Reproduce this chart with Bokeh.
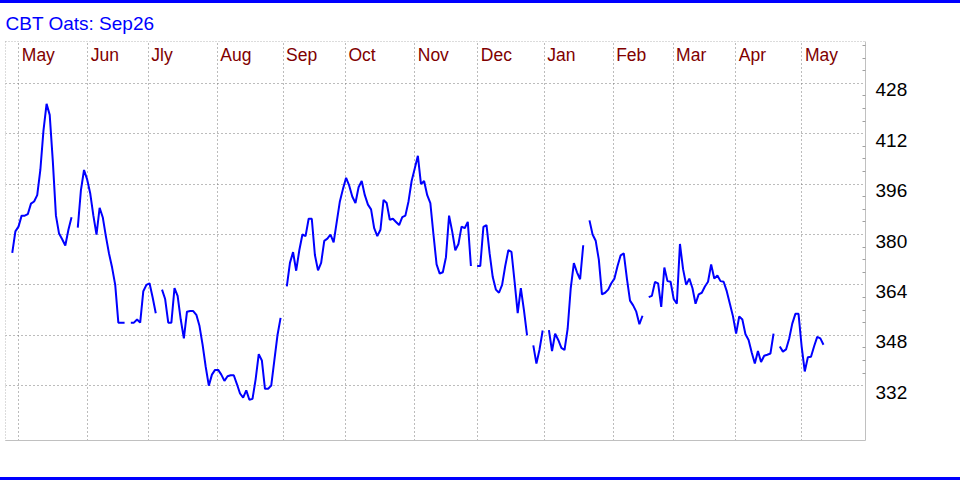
import math
from bokeh.plotting import figure
from bokeh.models import Range1d, LinearAxis, FixedTicker, CustomJSTickFormatter, Div
from bokeh.layouts import column
from bokeh.core.properties import value
from bokeh.embed import file_html
from bokeh.resources import INLINE

# ---------------- data ----------------
title_text = "CBT Oats: Sep26"
month_labels = ["May", "Jun", "Jly", "Aug", "Sep", "Oct", "Nov", "Dec",
                "Jan", "Feb", "Mar", "Apr", "May"]
# trading-day index where each month starts
month_pos = [2.1, 24.2, 43.6, 65.7, 86.8, 106.8, 129.0, 149.2, 170.5,
             192.6, 211.8, 231.9, 253.1]
y_ticks = [332, 348, 364, 380, 396, 412, 428]
y_minor_ticks = [336, 340, 344, 352, 356, 360, 368, 372, 376, 384, 388, 392,
                 400, 404, 408, 416, 420, 424, 432, 436, 440]

# daily settlement (None = no trade that day)
price = [
    374.2, 381, 382.5, 386, 386, 386.5, 389.8, 390.5, 392.5, 400.5,
    413, 421.5, 418, 403.3, 386, 380.3, 378.5, 376.5, 381.5, 385.5,
    None, 382.2, 394, 400.5, 397.5, 393, 386, 380, 388.5, 385.5,
    379.5, 374, 369.5, 364, 352, 352, 352, None, 352, 352,
    353, 352, 362, 364, 364.5, 360, 355, None, 362.5, 359.5,
    352, 352, 363, 360.5, 353, 347, 355.5, 355.7, 355.7, 354.5,
    351, 345, 338, 332, 335.5, 337, 337, 335.5, 333.5, 335,
    335.3, 335.3, 332.5, 329.5, 328.2, 330.5, 327.5, 327.8, 334, 342,
    340, 331, 331, 332, 340, 348, 353.5, None, 363.5, 371,
    374.4, 368.5, 375, 380, 379.5, 385, 385, 373.5, 368.6, 371,
    378, 378.7, 380, 377.5, 384, 390.5, 394.5, 398, 395.5, 392,
    390, 395, 397, 392.5, 389.5, 388, 382, 379.5, 381.5, 391,
    390, 384.7, 385, 384, 383, 385.5, 386, 390.5, 397, 401,
    405, 396, 397, 392.5, 390, 380, 370.5, 367.6, 368, 372.8,
    386, 381, 375, 377, 382.5, 382, 384, 370, None, 370,
    370, 382.4, 383, 374, 366.5, 362.5, 361.5, 364, 370, 375,
    374.5, 365, 355, 363, 356, 348, None, 344.8, 339, 343.5,
    349.5, None, 349.6, 343, 348.5, 346.5, 344, 343.3, 350, 363,
    370.9, 368, 365.8, 376.6, None, 384.5, 380, 378, 372, 361,
    361.5, 362.5, 364.5, 366, 370, 373.4, 374, 366, 359, 357.5,
    355.5, 351.5, 354.2, None, 360.1, 360.5, 364.9, 364.5, 357, 369.5,
    365.2, 365, 359.5, 358, 377, 369, 364, 366, 363, 358,
    361, 361.5, 363.5, 365, 370.5, 366, 367, 365.2, 365, 362,
    358, 354, 348.5, 354, 353, 348.3, 346.5, 342.5, 339, 343,
    339.5, 341.5, 341.8, 342.2, 348.5, None, 344.4, 342.8, 343.5, 346.9,
    351.7, 354.8, 354.8, 344.5, 336.5, 341, 341.2, 344.5, 347.5, 347,
    345,
]
day = list(range(len(price)))
price_plot = [math.nan if v is None else v for v in price]

# ---------------- styling ----------------
FONT = "Liberation Sans"
W = 960
X_START, X_END = -2.167, 273.47
Y_START, Y_END = 314.57, 441.31
LABEL_SHIFT = 2.06


def blue_bar():
    return Div(text="", width=W, height=3,
               styles={"background-color": "#0000FF", "margin": "0",
                       "padding": "0"})


fig = figure(width=W, height=474, toolbar_location=None, output_backend="svg",
             x_range=Range1d(X_START, X_END), y_range=Range1d(Y_START, Y_END),
             x_axis_location=None, y_axis_location="right",
             min_border_left=5, min_border_right=95,
             min_border_top=37, min_border_bottom=37,
             background_fill_color="white", border_fill_color="white",
             outline_line_color="#b8b8b8", outline_line_dash="1 2")

fig.title.text = title_text
fig.title.align = "left"
fig.title.text_font = FONT
fig.title.text_font_size = "19px"
fig.title.text_font_style = "normal"
fig.title.text_color = "#0000FF"
fig.title.offset = 0
fig.title.standoff = 15

# right axis: ticks only
ax = fig.yaxis[0]
ax.ticker = FixedTicker(ticks=y_ticks, minor_ticks=y_minor_ticks)
ax.formatter = CustomJSTickFormatter(code="return ''")
ax.major_label_standoff = 0
ax.major_tick_in = 0
ax.major_tick_out = 0
ax.major_tick_line_color = None
ax.minor_tick_in = 3
ax.minor_tick_out = 0
ax.minor_tick_line_color = "#a0a0a0"
ax.axis_line_color = "#c0c0c0"

# right axis: labels (drawn just below each grid line)
fig.extra_y_ranges = {"lab": Range1d(Y_START + LABEL_SHIFT, Y_END + LABEL_SHIFT)}
lab = LinearAxis(y_range_name="lab", ticker=FixedTicker(ticks=y_ticks),
                 axis_line_color=None, major_tick_line_color=None,
                 minor_tick_line_color=None, major_tick_in=0, major_tick_out=0,
                 minor_tick_in=0, minor_tick_out=0, major_label_standoff=10,
                 major_label_text_font=FONT, major_label_text_font_size="19px",
                 major_label_text_color="#000000")
fig.add_layout(lab, "right")

# bottom solid border
bx = LinearAxis(ticker=FixedTicker(ticks=[]), axis_line_color="#c0c0c0",
                major_tick_in=0, major_tick_out=0, major_label_standoff=0,
                formatter=CustomJSTickFormatter(code="return ''"))
fig.add_layout(bx, "below")

fig.ygrid.grid_line_color = "#787878"
fig.ygrid.grid_line_dash = "1 3"
fig.xgrid.ticker = FixedTicker(ticks=month_pos)
fig.xgrid.grid_line_color = "#787878"
fig.xgrid.grid_line_dash = "1 3"

fig.text(x=month_pos, y=[Y_END] * len(month_pos), text=month_labels,
         text_font=value(FONT), text_font_size="17.5px", text_color="#800000",
         text_align="left", text_baseline="alphabetic", x_offset=3, y_offset=13)

fig.line(day, price_plot, line_color="#0000FF", line_width=2)

p = column(blue_bar(), fig, blue_bar(), spacing=0)

open("out.html", "w").write(file_html(p, INLINE))
